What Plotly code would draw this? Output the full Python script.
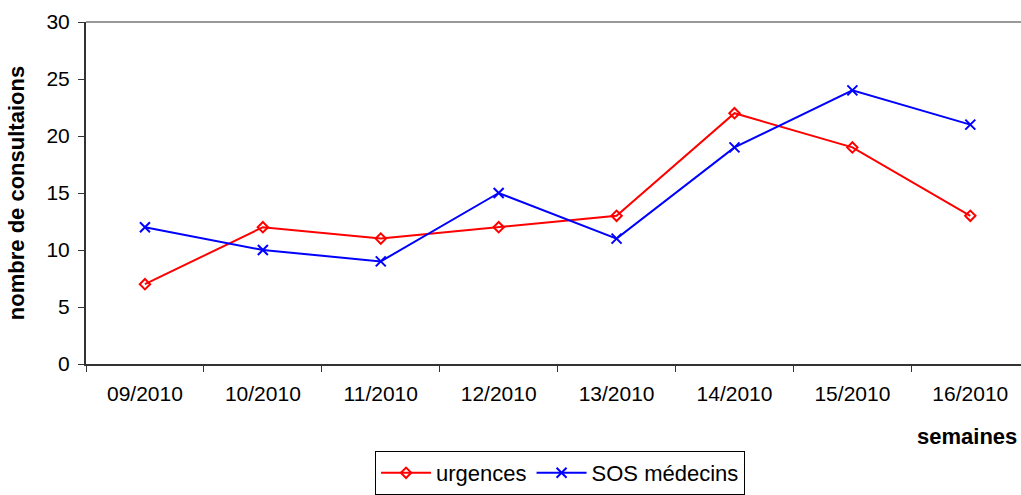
import plotly.graph_objects as go

semaines = ["09/2010", "10/2010", "11/2010", "12/2010", "13/2010", "14/2010", "15/2010", "16/2010"]
urgences = [7, 12, 11, 12, 13, 22, 19, 13]
sos_medecins = [12, 10, 9, 15, 11, 19, 24, 21]

fig = go.Figure()
fig.add_trace(go.Scatter(
    x=semaines, y=urgences, name="urgences", mode="lines+markers",
    line=dict(color="#ff0000", width=2),
    marker=dict(symbol="diamond-open", size=8, color="#ff0000", line=dict(width=2))
))
fig.add_trace(go.Scatter(
    x=semaines, y=sos_medecins, name="SOS médecins", mode="lines+markers",
    line=dict(color="#0000ff", width=2),
    marker=dict(symbol="x-thin", size=10, color="#0000ff", line=dict(width=2, color="#0000ff"))
))

# top border of the plot area
fig.add_shape(type="line", xref="paper", yref="paper", x0=0, x1=1, y0=1, y1=1,
              line=dict(color="#999999", width=2))

fig.add_annotation(text="<b>semaines</b>", xref="paper", yref="paper", x=0.998, y=-0.212,
                   xanchor="right", yanchor="middle", showarrow=False,
                   font=dict(size=22, color="black"))

fig.update_layout(
    width=1021, height=495,
    margin=dict(l=86, r=0, t=22, b=128),
    plot_bgcolor="white", paper_bgcolor="white",
    font=dict(family="Liberation Sans, Arial", size=21, color="black"),
    showlegend=True,
    legend=dict(orientation="h", x=0.507, y=-0.255, xanchor="center", yanchor="top",
                bordercolor="black", borderwidth=1, font=dict(size=22),
                itemwidth=50, tracegroupgap=0),
    xaxis=dict(
        type="category", range=[-0.5, 7.43], tickson="boundaries",
        ticks="outside", ticklen=6, tickcolor="#333333",
        showline=True, linecolor="#333333", linewidth=2,
        showgrid=False, zeroline=False, ticklabelstandoff=10,
    ),
    yaxis=dict(
        range=[0, 30], dtick=5, ticks="outside", ticklen=6, tickcolor="#333333",
        showline=True, linecolor="#333333", linewidth=2,
        showgrid=False, zeroline=False, ticklabelstandoff=4,
        title=dict(text="<b>nombre de consultaions</b>", font=dict(size=22), standoff=16),
    ),
)

fig.write_html("out.html", config={"displayModeBar": False},
               post_script="document.body.style.margin='0';")
